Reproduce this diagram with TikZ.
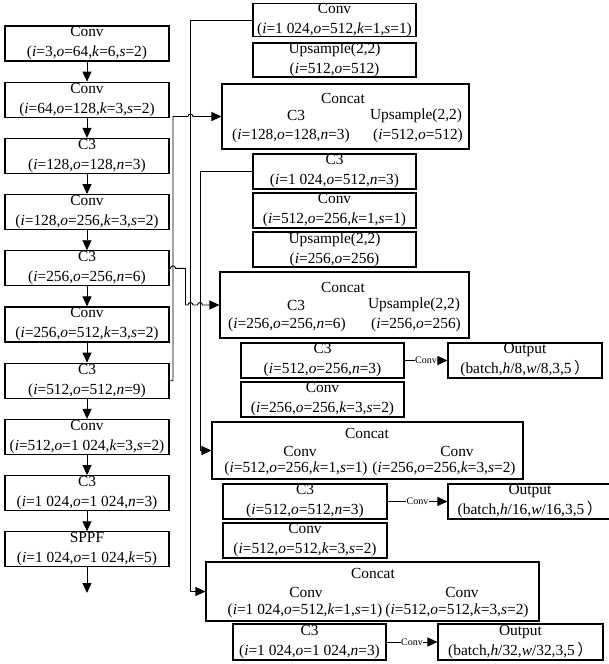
\documentclass[tikz,border=0pt]{standalone}
\usepackage{fontspec}
\setmainfont{Liberation Serif}
\newfontfamily\cjk{Noto Sans CJK SC}
\usetikzlibrary{arrows.meta,calc}
\newcommand{\vi}[1]{\textit{#1}}
\newcommand{\fpr}{\,{\cjk ）}}
\begin{document}
\begin{tikzpicture}[x=1pt,y=-1pt,
  blk/.style={draw, line width=1.1pt, minimum width=164pt, minimum height=35pt, inner sep=0pt, align=center, font=\fontsize{15.4}{20}\selectfont, execute at begin node={\rule{0pt}{16pt}}},
  cbox/.style={draw, line width=1.1pt, inner sep=0pt},
  txt/.style={inner sep=0pt, font=\fontsize{15.4}{20}\selectfont},
  arr/.style={-{Triangle[length=10pt,width=9pt]}, line width=0.9pt},
  lab/.style={fill=white, inner sep=0.6pt, font=\fontsize{10}{11}\selectfont}]
\useasboundingbox (0,0) rectangle (609,664);

% left column
\node[blk] (L1) at (87,43.5) {Conv\\(\vi{i}=3,\vi{o}=64,\vi{k}=6,\vi{s}=2)};
\node[blk] (L2) at (87,99.7) {Conv\\(\vi{i}=64,\vi{o}=128,\vi{k}=3,\vi{s}=2)};
\node[blk] (L3) at (87,155.9) {C3\\(\vi{i}=128,\vi{o}=128,\vi{n}=3)};
\node[blk] (L4) at (87,212.1) {Conv\\(\vi{i}=128,\vi{o}=256,\vi{k}=3,\vi{s}=2)};
\node[blk] (L5) at (87,268.3) {C3\\(\vi{i}=256,\vi{o}=256,\vi{n}=6)};
\node[blk] (L6) at (87,324.5) {Conv\\(\vi{i}=256,\vi{o}=512,\vi{k}=3,\vi{s}=2)};
\node[blk] (L7) at (87,380.7) {C3\\(\vi{i}=512,\vi{o}=512,\vi{n}=9)};
\node[blk] (L8) at (87,436.9) {Conv\\(\vi{i}=512,\vi{o}=1 024,\vi{k}=3,\vi{s}=2)};
\node[blk] (L9) at (87,493.1) {C3\\(\vi{i}=1 024,\vi{o}=1 024,\vi{n}=3)};
\node[blk] (L10) at (87,549.3) {SPPF\\(\vi{i}=1 024,\vi{o}=1 024,\vi{k}=5)};
\coordinate (lend) at (87,593);

\foreach \a/\b in {L1/L2,L2/L3,L3/L4,L4/L5,L5/L6,L6/L7,L7/L8,L8/L9,L9/L10}
  \draw[arr] (\a.south) -- (\b.north);
\draw[arr] (L10.south) -- (lend);

% right column
\node[blk, minimum width=163pt, minimum height=33pt] (R1) at (334.5,20) {Conv\\(\vi{i}=1 024,\vi{o}=512,\vi{k}=1,\vi{s}=1)};
\node[blk, minimum width=163pt, minimum height=34pt] (R2) at (334.5,60) {Upsample(2,2)\\(\vi{i}=512,\vi{o}=512)};
\node[cbox, minimum width=247pt, minimum height=65pt] (R3) at (345.5,116.5) {};
\node[txt] (R3t) at (343,98) {Concat};
\node[txt] (R3a) at (296,115.5) {C3};
\node[txt] (R3b) at (291,136) {(\vi{i}=128,\vi{o}=128,\vi{n}=3)};
\node[txt] (R3c) at (416,115.5) {Upsample(2,2)};
\node[txt] (R3d) at (418,136) {(\vi{i}=512,\vi{o}=512)};

\node[blk, minimum width=163pt] (R4) at (334.5,171.5) {C3\\(\vi{i}=1 024,\vi{o}=512,\vi{n}=3)};
\node[blk, minimum width=163pt] (R5) at (334.5,210.5) {Conv\\(\vi{i}=512,\vi{o}=256,\vi{k}=1,\vi{s}=1)};
\node[blk, minimum width=163pt] (R6) at (334.5,249.5) {Upsample(2,2)\\(\vi{i}=256,\vi{o}=256)};
\node[cbox, minimum width=249pt, minimum height=66pt] (R7) at (344.5,305) {};
\node[txt] (R7t) at (343,287) {Concat};
\node[txt] (R7a) at (296,305) {C3};
\node[txt] (R7b) at (287,325) {(\vi{i}=256,\vi{o}=256,\vi{n}=6)};
\node[txt] (R7c) at (414,305) {Upsample(2,2)};
\node[txt] (R7d) at (416,325) {(\vi{i}=256,\vi{o}=256)};

\node[blk, minimum width=163pt] (R8) at (322.5,360.5) {C3\\(\vi{i}=512,\vi{o}=256,\vi{n}=3)};
\node[blk, minimum width=154pt] (O1) at (525,360.5) {Output\\(batch,\vi{h}/8,\vi{w}/8,3,5\fpr};
\node[blk, minimum width=163pt] (R9) at (322.5,399.5) {Conv\\(\vi{i}=256,\vi{o}=256,\vi{k}=3,\vi{s}=2)};
\node[cbox, minimum width=311pt, minimum height=57pt] (R10) at (367.5,450.5) {};
\node[txt] (R10t) at (367,433) {Concat};
\node[txt] (R10a) at (300,451) {Conv};
\node[txt] (R10b) at (296,469) {(\vi{i}=512,\vi{o}=256,\vi{k}=1,\vi{s}=1)};
\node[txt] (R10c) at (457,451) {Conv};
\node[txt] (R10d) at (444,469) {(\vi{i}=256,\vi{o}=256,\vi{k}=3,\vi{s}=2)};

\node[blk] (R11) at (305,501.5) {C3\\(\vi{i}=512,\vi{o}=512,\vi{n}=3)};
\node[blk, minimum width=164pt] (O2) at (530,501.5) {Output\\(batch,\vi{h}/16,\vi{w}/16,3,5\fpr};
\node[blk] (R12) at (305,540.5) {Conv\\(\vi{i}=512,\vi{o}=512,\vi{k}=3,\vi{s}=2)};
\node[cbox, minimum width=333pt, minimum height=59pt] (R13) at (372.5,591.5) {};
\node[txt] (R13t) at (373,573) {Concat};
\node[txt] (R13a) at (306,592) {Conv};
\node[txt] (R13b) at (305,611) {(\vi{i}=1 024,\vi{o}=512,\vi{k}=1,\vi{s}=1)};
\node[txt] (R13c) at (462,592) {Conv};
\node[txt] (R13d) at (457,611) {(\vi{i}=512,\vi{o}=512,\vi{k}=3,\vi{s}=2)};

\node[blk, minimum width=153pt, minimum height=36pt] (R14) at (309.5,642) {C3\\(\vi{i}=1 024,\vi{o}=1 024,\vi{n}=3)};
\node[blk, minimum width=165pt, minimum height=36pt] (O3) at (520.5,642) {Output\\(batch,\vi{h}/32,\vi{w}/32,3,5\fpr};

% output arrows
\draw[arr] (R8.east) -- node[lab] (c1) {Conv} (O1.west);
\draw[arr] (R11.east) -- node[lab] (c2) {Conv} (O2.west);
\draw[arr] (R14.east) -- node[lab] (c3) {Conv} (O3.west);

% vertical routing lines
\coordinate (xa) at (173,0);
\coordinate (xd) at (185.5,0);
\coordinate (xb) at (190.5,0);
\coordinate (xc) at (200,0);

% A: L7 -> Concat1
\draw[arr] (L7.east) -- (L7.east -| xa) -- (xa |- R3.west)
  -- ($(xb |- R3.west)+(-2.5pt,0)$) arc[start angle=180,end angle=0,radius=2.5pt]
  -- (R3.west);
% B: R1 -> Concat4
\draw[arr] (R1.west) -- (R1.west -| xb) -- (xb |- R13.west) -- (R13.west);
% C: R4 -> Concat3
\draw[arr] (R4.west) -- (R4.west -| xc) -- (xc |- R10.west) -- (R10.west);
% D: L5 -> Concat2
\draw[arr] (L5.east) -- ($(xa |- L5.east)+(-2.5pt,0)$) arc[start angle=180,end angle=0,radius=2.5pt]
  -- (xd |- L5.east) -- (xd |- R7.west)
  -- ($(xb |- R7.west)+(-2.5pt,0)$) arc[start angle=180,end angle=0,radius=2.5pt]
  -- ($(xc |- R7.west)+(-2.5pt,0)$) arc[start angle=180,end angle=0,radius=2.5pt]
  -- (R7.west);
\end{tikzpicture}
\end{document}
